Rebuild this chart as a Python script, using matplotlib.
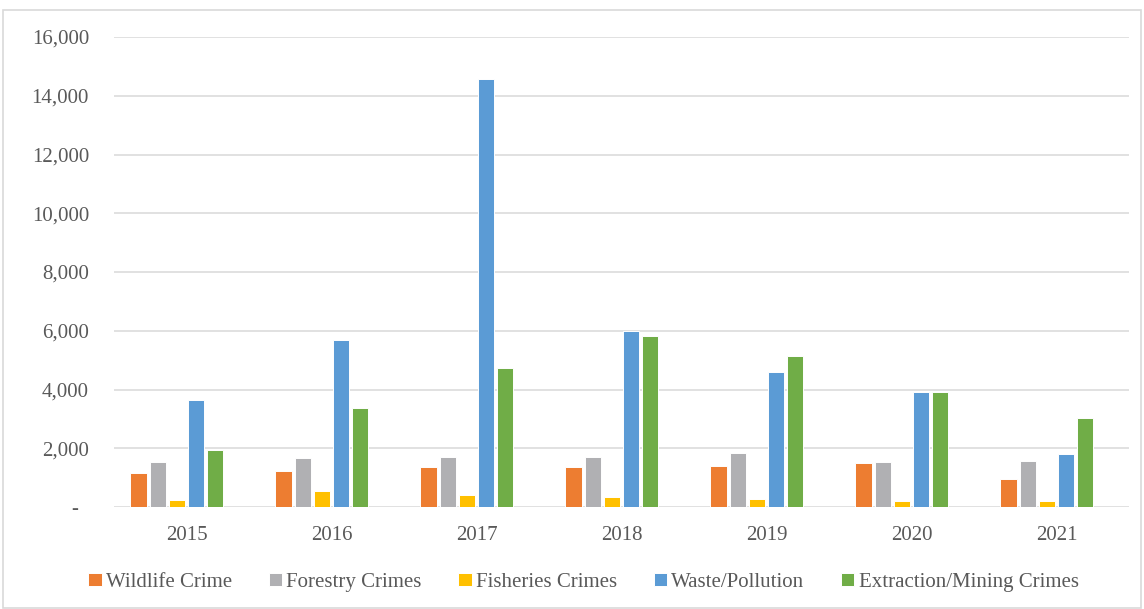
import matplotlib.pyplot as plt
import numpy as np
from matplotlib.patches import Rectangle
from matplotlib.ticker import FuncFormatter

years = ['2015', '2016', '2017', '2018', '2019', '2020', '2021']
wildlife = [1150, 1240, 1365, 1365, 1390, 1490, 970]
forestry = [1515, 1685, 1695, 1695, 1845, 1525, 1560]
fisheries = [250, 535, 400, 330, 262, 220, 220]
waste = [3640, 5680, 14570, 5990, 4600, 3925, 1790]
mining = [1945, 3370, 4735, 5825, 5155, 3905, 3030]

series_names = ['Wildlife Crime', 'Forestry Crimes', 'Fisheries Crimes',
                'Waste/Pollution', 'Extraction/Mining Crimes']
series_vals = [wildlife, forestry, fisheries, waste, mining]
colors = ['#ED7D31', '#B0B0B3', '#FFC000', '#5B9BD5', '#70AD47']

plt.rcParams['font.family'] = ['Liberation Serif', 'DejaVu Serif']
txt_col = '#595959'

fig = plt.figure(figsize=(11.44, 6.09), dpi=100)
ax = fig.add_axes([114/1144, 1-507/609, 1015/1144, 470/609])

x = np.arange(len(years))
pitch = 0.1324  # 6 slots per group, last one is empty
for i, (name, vals) in enumerate(zip(series_names, series_vals)):
    ax.bar(x + (i - 2.5) * pitch, vals, width=0.112, color=colors[i],
           edgecolor='white', linewidth=0.7, label=name, zorder=3)

ax.set_xlim(-0.5, len(years) - 0.5)
ax.set_ylim(0, 16000)
ax.set_yticks(np.arange(0, 16001, 2000))
ax.yaxis.set_major_formatter(FuncFormatter(lambda v, p: '-  ' if v == 0 else f'{int(v):,}'))
ax.set_xticks(x)
ax.set_xticklabels(years)
ax.grid(axis='y', color='#D9D9D9', linewidth=1.1, zorder=0)
for s in ax.spines.values():
    s.set_visible(False)
ax.tick_params(axis='both', length=0, labelsize=15, labelcolor=txt_col)
ax.tick_params(axis='y', pad=18)
ax.tick_params(axis='x', pad=14)

fig.legend(loc='center', bbox_to_anchor=(0.51, 0.044), ncol=5, frameon=False,
           fontsize=15, labelcolor=txt_col, handlelength=0.65, handleheight=0.65,
           handletextpad=0.2, columnspacing=1.75)

fig.patches.append(Rectangle((3/1144, 0.002), 1138/1144, 1-10/609-0.002,
                             transform=fig.transFigure, fill=False,
                             edgecolor='#D9D9D9', linewidth=1.2))

fig.savefig('out.png', dpi=100)
